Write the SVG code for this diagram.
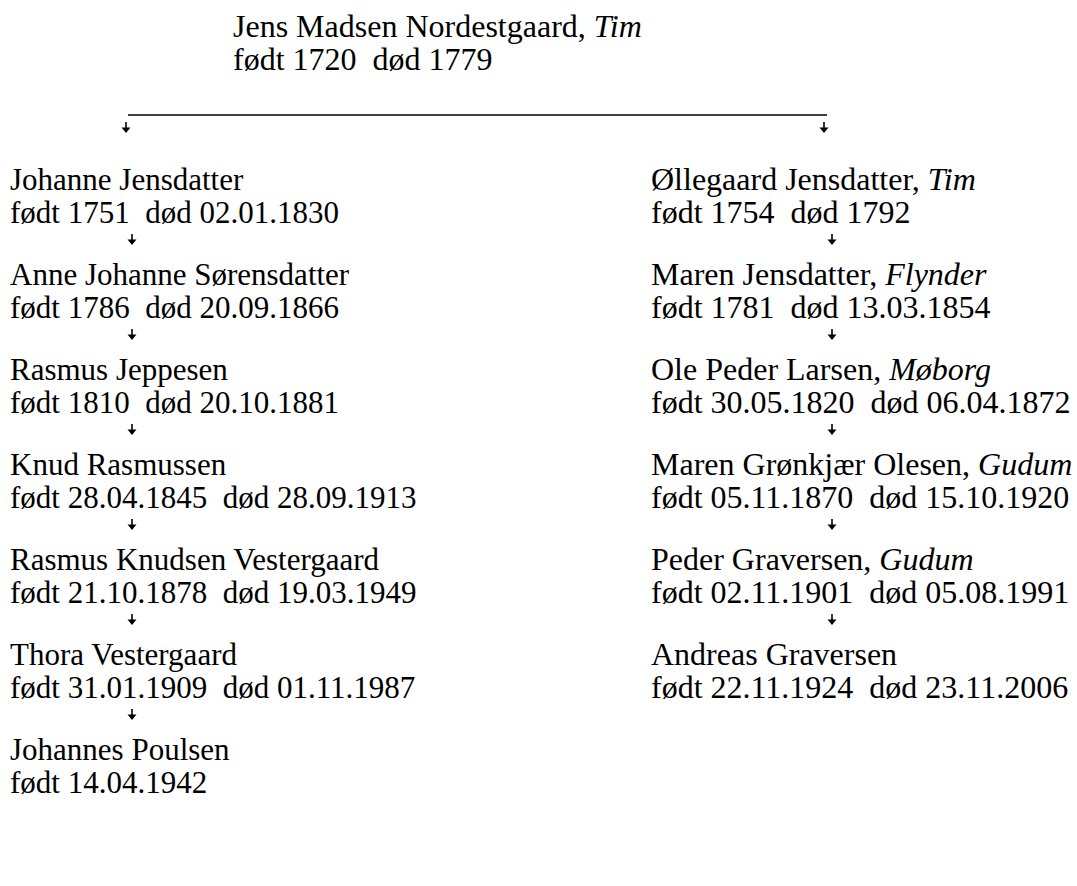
<svg xmlns="http://www.w3.org/2000/svg" width="1077" height="886" viewBox="0 0 1077 886">
<defs>
<style>
text{font-family:"Liberation Serif","Times New Roman",serif;font-size:32px;fill:#000}
.l text{font-size:31px}
.i{font-style:italic}
.ln{stroke:#000;stroke-width:1.3;fill:none}
.ar{fill:#000}
</style>
<g id="arrow">
<line x1="0" y1="0" x2="0" y2="6" stroke="#000" stroke-width="1.6"/>
<path d="M-4.5,5.5 L4.5,5.5 L0,11 Z" class="ar"/>
</g>
</defs>
<rect width="1077" height="886" fill="#fff"/>
<g id="connectors">
<line class="ln" x1="128" y1="115" x2="827" y2="115"/>
<use href="#arrow" x="126" y="122"/>
<use href="#arrow" x="824" y="122"/>
<use href="#arrow" x="132" y="234"/>
<use href="#arrow" x="132" y="329"/>
<use href="#arrow" x="132" y="424"/>
<use href="#arrow" x="132" y="519"/>
<use href="#arrow" x="132" y="614"/>
<use href="#arrow" x="132" y="709"/>
<use href="#arrow" x="832" y="234"/>
<use href="#arrow" x="832" y="329"/>
<use href="#arrow" x="832" y="424"/>
<use href="#arrow" x="832" y="519"/>
<use href="#arrow" x="832" y="614"/>
</g>
<g id="n-root"><text x="233" y="37">Jens Madsen Nordestgaard, <tspan class="i">Tim</tspan></text><text x="233" y="70" xml:space="preserve">født 1720  død 1779</text></g>
<g class="l">
<g id="n-l1"><text x="10" y="190">Johanne Jensdatter</text><text x="10" y="223" xml:space="preserve">født 1751  død 02.01.1830</text></g>
<g id="n-l2"><text x="10" y="285">Anne Johanne Sørensdatter</text><text x="10" y="318" xml:space="preserve">født 1786  død 20.09.1866</text></g>
<g id="n-l3"><text x="10" y="380">Rasmus Jeppesen</text><text x="10" y="413" xml:space="preserve">født 1810  død 20.10.1881</text></g>
<g id="n-l4"><text x="10" y="475">Knud Rasmussen</text><text x="10" y="508" xml:space="preserve">født 28.04.1845  død 28.09.1913</text></g>
<g id="n-l5"><text x="10" y="570">Rasmus Knudsen Vestergaard</text><text x="10" y="603" xml:space="preserve">født 21.10.1878  død 19.03.1949</text></g>
<g id="n-l6"><text x="10" y="665">Thora Vestergaard</text><text x="10" y="698" xml:space="preserve">født 31.01.1909  død 01.11.1987</text></g>
<g id="n-l7"><text x="10" y="760">Johannes Poulsen</text><text x="10" y="793">født 14.04.1942</text></g>
</g>
<g id="n-r1"><text x="651" y="190">Øllegaard Jensdatter, <tspan class="i">Tim</tspan></text><text x="651" y="223" xml:space="preserve">født 1754  død 1792</text></g>
<g id="n-r2"><text x="651" y="285">Maren Jensdatter, <tspan class="i">Flynder</tspan></text><text x="651" y="318" xml:space="preserve">født 1781  død 13.03.1854</text></g>
<g id="n-r3"><text x="651" y="380">Ole Peder Larsen, <tspan class="i">Møborg</tspan></text><text x="651" y="413" xml:space="preserve">født 30.05.1820  død 06.04.1872</text></g>
<g id="n-r4"><text x="651" y="475">Maren Grønkjær Olesen, <tspan class="i">Gudum</tspan></text><text x="651" y="508" xml:space="preserve">født 05.11.1870  død 15.10.1920</text></g>
<g id="n-r5"><text x="651" y="570">Peder Graversen, <tspan class="i">Gudum</tspan></text><text x="651" y="603" xml:space="preserve">født 02.11.1901  død 05.08.1991</text></g>
<g id="n-r6"><text x="651" y="665">Andreas Graversen</text><text x="651" y="698" xml:space="preserve">født 22.11.1924  død 23.11.2006</text></g>
</svg>
